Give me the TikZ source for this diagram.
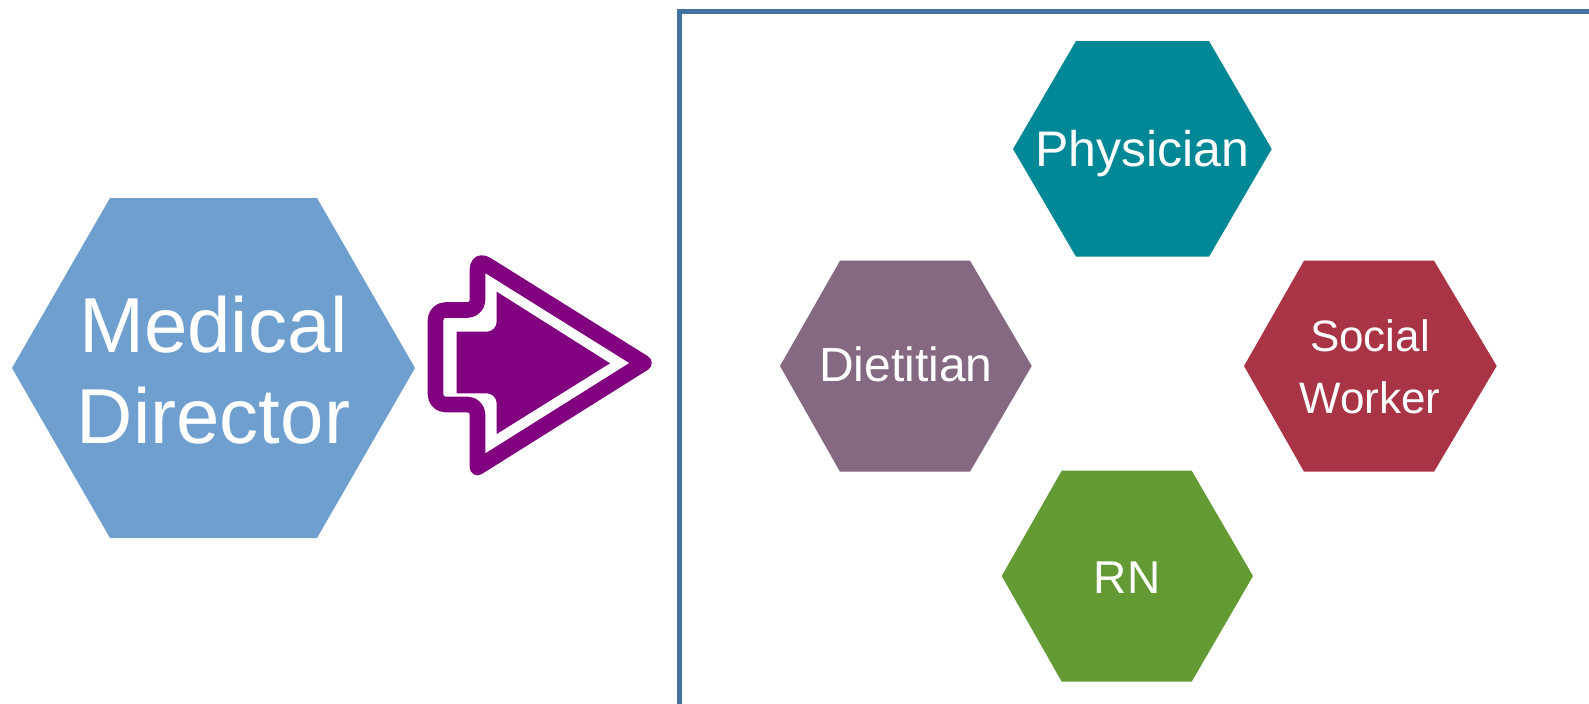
\documentclass[tikz,border=0pt]{standalone}
\usepackage{fontspec}
\setmainfont{Liberation Sans}
\definecolor{mdblue}{RGB}{110,159,207}
\definecolor{physteal}{RGB}{0,136,150}
\definecolor{dietpurple}{RGB}{133,104,130}
\definecolor{swred}{RGB}{169,52,69}
\definecolor{rngreen}{RGB}{99,154,51}
\definecolor{boxblue}{RGB}{68,114,158}
\definecolor{arrowpurple}{RGB}{128,0,128}
\begin{document}
\begin{tikzpicture}[x=0.5pt,y=-0.5pt,
  hexlabel/.style={text=white, anchor=base, align=center, inner sep=0pt},
  frameline/.style={draw=boxblue, line width=2.5pt},
  arrowoutline/.style={draw=arrowpurple, line width=7.8pt, line join=round},
  arrowfill/.style={fill=arrowpurple}]
\useasboundingbox (0,0) rectangle (1589,703);
\fill[white] (0,0) rectangle (1589,703);
% frame
\draw[frameline] (1600,11) -- (679,11) -- (679,720);
% hexagons
\fill[mdblue] (12,368) -- (110,198) -- (317,198) -- (415,368) -- (317,538) -- (110,538) -- cycle;
\fill[physteal] (1013,149) -- (1076,41) -- (1209,41) -- (1271.7,149) -- (1209,256.7) -- (1076,256.7) -- cycle;
\fill[dietpurple] (780,366) -- (840,260.7) -- (970,260.7) -- (1031.7,366) -- (970,471.7) -- (840,471.7) -- cycle;
\fill[swred] (1244,366) -- (1304,260.7) -- (1434,260.7) -- (1496.7,366) -- (1434,471.7) -- (1304,471.7) -- cycle;
\fill[rngreen] (1001.7,576) -- (1061.7,470.7) -- (1191.7,470.7) -- (1253,576) -- (1191.7,681.7) -- (1061.7,681.7) -- cycle;
% labels (base anchor = baseline of the last line)
\node[hexlabel, font=\fontsize{39}{45.5}\selectfont] (md) at (213.5,443) {Medical\\Director};
\node[hexlabel, font=\fontsize{25}{30}\selectfont] (phys) at (1142,166.7) {Physician};
\node[hexlabel, font=\fontsize{24}{28}\selectfont] (diet) at (906,381.7) {Dietitian};
\node[hexlabel, font=\fontsize{22}{30.85}\selectfont] (sw) at (1370,413) {Social\\Worker};
\node[hexlabel, font=\fontsize{23}{28}\selectfont] (rn) at (1127,593.3) {RN};
% arrow
\draw[arrowoutline] (644,363) -- (477.5,467.5) [rounded corners=5pt] -- (477.5,404.5) -- (435.5,404.5) -- (435.5,310) -- (477.5,310) -- (477.5,259) [sharp corners] -- cycle;
\fill[arrowfill] (456.7,331.7) [rounded corners=5pt] -- (496.7,331.7) [sharp corners] -- (496.7,291.7) -- (610,363.3) -- (496.7,434) [rounded corners=5pt] -- (496.7,393.3) [sharp corners] -- (456.7,393.3) -- cycle;
\end{tikzpicture}
\end{document}
